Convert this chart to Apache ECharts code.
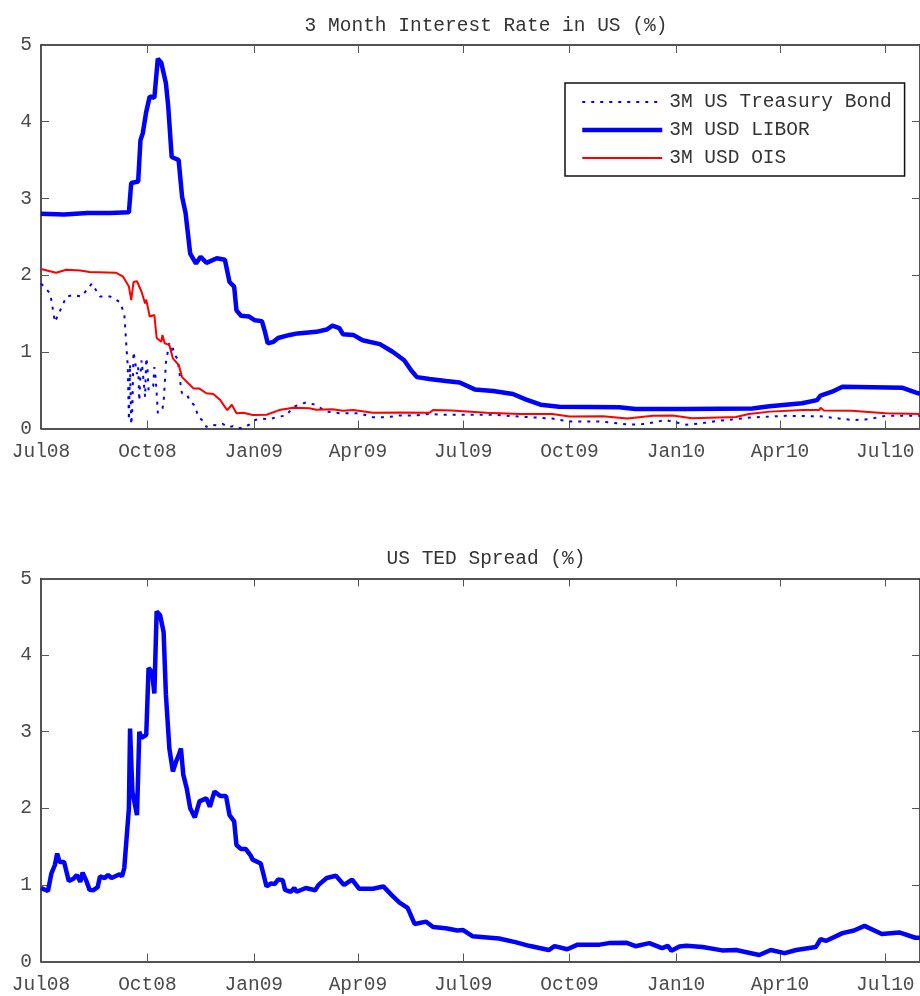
<!DOCTYPE html>
<html>
<head>
<meta charset="utf-8">
<script src="https://cdn.jsdelivr.net/npm/echarts@6/dist/echarts.min.js"></script>
<style>
html,body{margin:0;padding:0;background:#fff;}
#chart{width:920px;height:996px;}
</style>
</head>
<body>
<div id="chart"></div>
<script>
// ---------- data ----------
const xMin = '2008-07-01';
const xMax = '2010-07-31';
const tickDates = ['2008-07-01','2008-10-01','2009-01-01','2009-04-01','2009-07-01','2009-10-01','2010-01-01','2010-04-01','2010-07-01'];
const tickLabels = ['Jul08','Oct08','Jan09','Apr09','Jul09','Oct09','Jan10','Apr10','Jul10'];
const yTickValues = [0,1,2,3,4,5];

const titleTop = '3 Month Interest Rate in US (%)';
const titleBottom = 'US TED Spread (%)';
const seriesNames = ['3M US Treasury Bond','3M USD LIBOR','3M USD OIS'];

const treasury = [
['2008-07-01',1.89],['2008-07-09',1.76],['2008-07-13',1.39],['2008-07-17',1.52],['2008-07-23',1.72],
['2008-07-29',1.74],['2008-08-05',1.72],['2008-08-14',1.89],['2008-08-21',1.72],['2008-08-30',1.72],
['2008-09-07',1.65],['2008-09-11',1.50],['2008-09-12',1.49],['2008-09-14',0.81],['2008-09-15',0.11],
['2008-09-16',0.84],['2008-09-17',0.05],['2008-09-18',0.25],['2008-09-19',1.00],['2008-09-22',0.71],
['2008-09-23',0.80],['2008-09-24',0.36],['2008-09-25',0.71],['2008-09-26',0.89],['2008-09-29',0.41],
['2008-09-30',0.92],['2008-10-01',0.81],['2008-10-02',0.50],['2008-10-03',0.53],['2008-10-06',0.55],
['2008-10-07',0.80],['2008-10-08',0.67],['2008-10-09',0.46],['2008-10-10',0.20],['2008-10-14',0.26],
['2008-10-15',0.34],['2008-10-16',0.58],['2008-10-17',0.86],['2008-10-20',1.12],['2008-10-21',1.10],
['2008-10-22',0.99],['2008-10-23',1.05],['2008-10-24',0.97],['2008-10-27',0.91],['2008-10-28',0.80],
['2008-10-29',0.70],['2008-10-30',0.51],['2008-10-31',0.46],['2008-11-04',0.45],['2008-11-07',0.35],
['2008-11-11',0.30],['2008-11-14',0.15],['2008-11-18',0.10],['2008-11-21',0.02],['2008-11-25',0.05],
['2008-11-30',0.04],['2008-12-05',0.06],['2008-12-10',0.02],['2008-12-14',0.03],['2008-12-18',0.00],
['2008-12-23',0.01],['2008-12-28',0.05],['2009-01-02',0.11],['2009-01-08',0.13],['2009-01-14',0.12],
['2009-01-21',0.15],['2009-01-29',0.17],['2009-02-04',0.28],['2009-02-09',0.31],['2009-02-15',0.34],
['2009-02-23',0.31],['2009-03-05',0.22],['2009-03-16',0.20],['2009-04-02',0.20],['2009-04-14',0.146],
['2009-04-26',0.146],['2009-05-07',0.17],['2009-05-21',0.17],['2009-06-02',0.19],['2009-06-11',0.18],
['2009-06-28',0.18],['2009-07-26',0.18],['2009-08-19',0.155],['2009-09-16',0.13],['2009-10-01',0.09],
['2009-10-29',0.09],['2009-11-22',0.05],['2009-12-06',0.06],['2009-12-23',0.11],['2010-01-10',0.05],
['2010-01-24',0.07],['2010-02-07',0.10],['2010-03-08',0.145],['2010-04-06',0.165],['2010-05-05',0.16],
['2010-06-03',0.11],['2010-06-16',0.12],['2010-07-01',0.165],['2010-07-31',0.165]
];

const libor = [
['2008-07-01',2.80],['2008-07-21',2.79],['2008-08-10',2.81],['2008-08-30',2.81],['2008-09-15',2.82],
['2008-09-17',3.20],['2008-09-23',3.22],['2008-09-25',3.76],['2008-09-27',3.85],['2008-09-30',4.13],
['2008-10-03',4.33],['2008-10-07',4.31],['2008-10-10',4.82],['2008-10-13',4.77],['2008-10-17',4.50],
['2008-10-19',4.20],['2008-10-22',3.54],['2008-10-28',3.50],['2008-10-31',3.02],['2008-11-03',2.81],
['2008-11-07',2.28],['2008-11-12',2.15],['2008-11-16',2.24],['2008-11-21',2.16],['2008-11-30',2.22],
['2008-12-07',2.20],['2008-12-11',1.91],['2008-12-15',1.85],['2008-12-17',1.54],['2008-12-21',1.47],
['2008-12-28',1.46],['2009-01-02',1.41],['2009-01-08',1.40],['2009-01-11',1.24],['2009-01-13',1.11],
['2009-01-18',1.13],['2009-01-22',1.18],['2009-02-01',1.22],['2009-02-08',1.24],['2009-02-24',1.26],
['2009-03-05',1.29],['2009-03-10',1.34],['2009-03-16',1.31],['2009-03-19',1.23],['2009-03-28',1.22],
['2009-04-05',1.15],['2009-04-20',1.10],['2009-05-01',1.00],['2009-05-11',0.89],['2009-05-17',0.76],
['2009-05-22',0.67],['2009-06-02',0.645],['2009-06-16',0.62],['2009-06-28',0.60],['2009-07-11',0.51],
['2009-07-27',0.49],['2009-08-13',0.45],['2009-08-24',0.38],['2009-09-06',0.31],['2009-09-22',0.285],
['2009-11-13',0.276],['2009-11-27',0.254],['2010-01-10',0.254],['2010-03-08',0.26],['2010-03-23',0.29],
['2010-04-20',0.33],['2010-05-03',0.37],['2010-05-06',0.43],['2010-05-16',0.48],['2010-05-25',0.545],
['2010-07-16',0.53],['2010-07-27',0.47],['2010-07-31',0.45]
];

const ois = [
['2008-07-01',2.08],['2008-07-14',2.03],['2008-07-23',2.07],['2008-08-04',2.06],['2008-08-12',2.04],
['2008-09-04',2.03],['2008-09-10',1.98],['2008-09-15',1.85],['2008-09-17',1.675],['2008-09-19',1.91],
['2008-09-22',1.92],['2008-09-26',1.78],['2008-09-29',1.63],['2008-09-30',1.68],['2008-10-03',1.46],
['2008-10-07',1.48],['2008-10-09',1.18],['2008-10-13',1.13],['2008-10-14',1.22],['2008-10-16',1.11],
['2008-10-20',1.09],['2008-10-23',0.915],['2008-10-28',0.83],['2008-10-31',0.67],['2008-11-04',0.61],
['2008-11-10',0.52],['2008-11-15',0.52],['2008-11-21',0.46],['2008-11-27',0.45],['2008-12-03',0.37],
['2008-12-09',0.24],['2008-12-13',0.31],['2008-12-17',0.20],['2008-12-23',0.205],['2008-12-31',0.176],
['2009-01-12',0.18],['2009-01-23',0.24],['2009-02-04',0.27],['2009-02-18',0.265],['2009-02-24',0.245],
['2009-03-10',0.25],['2009-03-19',0.23],['2009-03-28',0.24],['2009-04-14',0.205],['2009-05-07',0.21],
['2009-06-02',0.205],['2009-06-05',0.24],['2009-06-21',0.235],['2009-07-21',0.205],['2009-08-19',0.19],
['2009-09-16',0.19],['2009-10-01',0.155],['2009-10-30',0.16],['2009-11-20',0.13],['2009-12-12',0.165],
['2009-12-29',0.17],['2010-01-15',0.135],['2010-02-22',0.15],['2010-03-05',0.19],['2010-03-23',0.22],
['2010-04-21',0.24],['2010-05-05',0.24],['2010-05-06',0.27],['2010-05-09',0.235],['2010-06-02',0.23],
['2010-07-01',0.20],['2010-07-31',0.19]
];

const ted = [
['2008-07-01',0.96],['2008-07-07',0.92],['2008-07-10',1.15],['2008-07-13',1.26],['2008-07-15',1.41],
['2008-07-17',1.30],['2008-07-21',1.30],['2008-07-25',1.05],['2008-07-29',1.08],['2008-08-01',1.13],
['2008-08-04',1.04],['2008-08-06',1.16],['2008-08-09',1.06],['2008-08-12',0.935],['2008-08-15',0.93],
['2008-08-19',0.97],['2008-08-21',1.11],['2008-08-25',1.09],['2008-08-28',1.13],['2008-08-31',1.09],
['2008-09-07',1.14],['2008-09-09',1.11],['2008-09-11',1.22],['2008-09-13',1.61],['2008-09-15',2.00],
['2008-09-16',3.04],['2008-09-18',2.22],['2008-09-22',1.91],['2008-09-24',3.00],['2008-09-26',2.92],
['2008-09-30',2.96],['2008-10-02',3.83],['2008-10-05',3.78],['2008-10-07',3.50],['2008-10-09',4.57],
['2008-10-12',4.52],['2008-10-15',4.30],['2008-10-17',3.48],['2008-10-20',2.78],['2008-10-23',2.48],
['2008-10-26',2.62],['2008-10-28',2.69],['2008-10-30',2.78],['2008-11-01',2.44],['2008-11-04',2.26],
['2008-11-07',2.00],['2008-11-11',1.88],['2008-11-15',2.09],['2008-11-21',2.13],['2008-11-24',2.02],
['2008-11-28',2.22],['2008-12-03',2.16],['2008-12-08',2.16],['2008-12-11',1.91],['2008-12-15',1.83],
['2008-12-17',1.52],['2008-12-21',1.47],['2008-12-25',1.47],['2008-12-29',1.39],['2008-12-31',1.33],
['2009-01-07',1.28],['2009-01-12',0.98],['2009-01-16',1.02],['2009-01-19',1.01],['2009-01-22',1.07],
['2009-01-26',1.06],['2009-01-28',0.935],['2009-02-02',0.91],['2009-02-05',0.96],['2009-02-07',0.91],
['2009-02-15',0.96],['2009-02-23',0.93],['2009-02-26',1.00],['2009-03-05',1.09],['2009-03-13',1.12],
['2009-03-20',1.00],['2009-03-27',1.07],['2009-04-02',0.95],['2009-04-14',0.95],['2009-04-23',0.98],
['2009-04-30',0.87],['2009-05-07',0.77],['2009-05-14',0.70],['2009-05-20',0.49],['2009-05-30',0.52],
['2009-06-05',0.45],['2009-06-16',0.435],['2009-06-26',0.405],['2009-07-01',0.41],['2009-07-09',0.33],
['2009-08-01',0.30],['2009-08-16',0.25],['2009-08-27',0.205],['2009-09-13',0.15],['2009-09-18',0.20],
['2009-09-29',0.16],['2009-10-08',0.22],['2009-10-27',0.22],['2009-11-04',0.24],['2009-11-19',0.245],
['2009-11-27',0.20],['2009-12-09',0.24],['2009-12-20',0.175],['2009-12-25',0.205],['2009-12-28',0.14],
['2010-01-04',0.195],['2010-01-10',0.205],['2010-01-24',0.19],['2010-02-10',0.145],['2010-02-22',0.15],
['2010-03-14',0.085],['2010-03-24',0.15],['2010-04-05',0.11],['2010-04-15',0.15],['2010-05-02',0.19],
['2010-05-06',0.29],['2010-05-11',0.27],['2010-05-25',0.37],['2010-06-04',0.405],['2010-06-13',0.465],
['2010-06-28',0.36],['2010-07-13',0.38],['2010-07-27',0.31],['2010-07-31',0.31]
];

// ---------- chart ----------
const FONT = '"Liberation Mono", "DejaVu Sans Mono", monospace';
const TXT = '#4a4a4a';
const BLUE = '#0000ff', RED = '#ff0000';
const trStyle = { color: BLUE, width: 2, type: [3, 6] };
const liStyle = { color: BLUE, width: 4.5, type: 'solid' };
const oiStyle = { color: RED, width: 2, type: 'solid' };

function t(d) { const p = d.split('-').map(Number); return Date.UTC(p[0], p[1] - 1, p[2]); }
const toXY = arr => arr.map(r => [t(r[0]), r[1]]);
const tickTimes = tickDates.map(t);
function xLabel(v) {
  const i = tickTimes.indexOf(v);
  return i >= 0 ? tickLabels[i] : '';
}

function xAxis(grid, pos, showLabel) {
  return {
    type: 'value', gridIndex: grid, position: pos, min: t(xMin), max: t(xMax), scale: true,
    axisLine: { show: true, onZero: false, lineStyle: { color: '#1a1a1a', width: 1.5 } },
    axisTick: { show: true, inside: true, length: 8, customValues: tickTimes, lineStyle: { color: '#555', width: 1 } },
    axisLabel: { show: showLabel, customValues: tickTimes, formatter: xLabel, margin: 13,
      color: TXT, fontFamily: FONT, fontSize: 19.5, hideOverlap: false, showMinLabel: true, showMaxLabel: true },
    splitLine: { show: false }
  };
}
function yAxis(grid, pos, showLabel) {
  return {
    type: 'value', gridIndex: grid, position: pos, min: 0, max: 5, interval: 1,
    axisLine: { show: true, onZero: false, lineStyle: { color: '#1a1a1a', width: 1.5 } },
    axisTick: { show: true, inside: true, length: 8, lineStyle: { color: '#555', width: 1 } },
    axisLabel: { show: showLabel, margin: 9, color: TXT, fontFamily: FONT, fontSize: 19.5, padding: [3, 0, 0, 0],
      formatter: v => (yTickValues.indexOf(v) >= 0 ? String(v) : '') },
    splitLine: { show: false }
  };
}

const chart = echarts.init(document.getElementById('chart'), null, { renderer: 'canvas' });
chart.setOption({
  animation: false,
  backgroundColor: '#ffffff',
  title: [
    { text: titleTop, left: 481, top: 11, textAlign: 'center',
      textStyle: { fontFamily: FONT, fontSize: 19.5, fontWeight: 'normal', color: '#333' } },
    { text: titleBottom, left: 481, top: 544, textAlign: 'center',
      textStyle: { fontFamily: FONT, fontSize: 19.5, fontWeight: 'normal', color: '#333' } }
  ],
  grid: [
    { left: 41, top: 45, width: 880, height: 383.5 },
    { left: 41, top: 578.5, width: 880, height: 383 }
  ],
  legend: {
    orient: 'vertical', left: 565, top: 83,
    data: [
      { name: seriesNames[0], lineStyle: trStyle, itemStyle: { opacity: 0 } },
      { name: seriesNames[1], lineStyle: liStyle, itemStyle: { opacity: 0 } },
      { name: seriesNames[2], lineStyle: oiStyle, itemStyle: { opacity: 0 } }
    ],
    itemWidth: 80, itemHeight: 14, itemGap: 8,
    padding: [9, 13, 8, 15],
    borderColor: '#111', borderWidth: 1.5, backgroundColor: '#fff',
    textStyle: { fontFamily: FONT, fontSize: 19.5, color: '#333', padding: [0, 0, 0, 2] }
  },
  xAxis: [xAxis(0, 'bottom', true), xAxis(0, 'top', false), xAxis(1, 'bottom', true), xAxis(1, 'top', false)],
  yAxis: [yAxis(0, 'left', true), yAxis(0, 'right', false), yAxis(1, 'left', true), yAxis(1, 'right', false)],
  series: [
    { name: seriesNames[0], type: 'line', xAxisIndex: 0, yAxisIndex: 0, data: toXY(treasury), symbol: 'none', showSymbol: false,
      lineStyle: trStyle, itemStyle: { color: BLUE }, z: 2 },
    { name: seriesNames[1], type: 'line', xAxisIndex: 0, yAxisIndex: 0, data: toXY(libor), symbol: 'none', showSymbol: false,
      lineStyle: liStyle, itemStyle: { color: BLUE }, z: 3 },
    { name: seriesNames[2], type: 'line', xAxisIndex: 0, yAxisIndex: 0, data: toXY(ois), symbol: 'none', showSymbol: false,
      lineStyle: oiStyle, itemStyle: { color: RED }, z: 4 },
    { name: 'TED', type: 'line', xAxisIndex: 2, yAxisIndex: 2, data: toXY(ted), symbol: 'none', showSymbol: false,
      lineStyle: liStyle, itemStyle: { color: BLUE }, z: 3 }
  ]
});
</script>
</body>
</html>
